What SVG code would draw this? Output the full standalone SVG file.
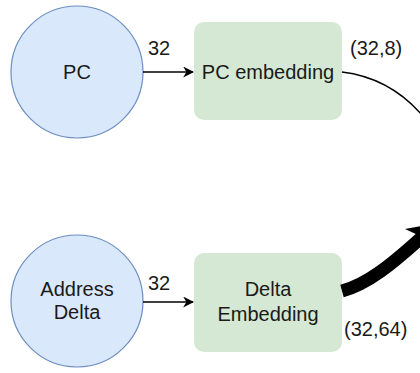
<svg xmlns="http://www.w3.org/2000/svg" width="420" height="373" viewBox="0 0 420 373">
<defs>
<style>
.circ{fill:#dae8fc;stroke:#6c8ebf;stroke-width:1.2}
.box{fill:#d5e8d4;stroke:none}
text{font-family:"Liberation Sans",Arial,sans-serif;font-size:20px;fill:#1a1a1a}
.c{text-anchor:middle}
.edge{fill:none;stroke:#000}
</style>
<marker id="arr" viewBox="0 0 10 10" refX="9" refY="5" markerWidth="11" markerHeight="11" markerUnits="userSpaceOnUse" orient="auto">
<path d="M0,0 L10,5 L0,10 L3,5 Z" fill="#000"/>
</marker>
</defs>
<rect width="420" height="373" fill="#fff"/>
<g id="pc">
<circle class="circ" cx="77" cy="72" r="66"/>
<text class="c" x="77" y="79">PC</text>
</g>
<g id="pc-embedding">
<rect class="box" x="194" y="22" width="148" height="98" rx="10"/>
<text class="c" x="268" y="79">PC embedding</text>
</g>
<g id="address-delta">
<circle class="circ" cx="77" cy="301" r="66"/>
<text class="c" x="77" y="296">Address</text>
<text class="c" x="77" y="319">Delta</text>
</g>
<g id="delta-embedding">
<rect class="box" x="194" y="253" width="148" height="99" rx="10"/>
<text class="c" x="268" y="296">Delta</text>
<text class="c" x="268" y="321">Embedding</text>
</g>
<g id="connectors">
<line class="edge" x1="143" y1="72" x2="193" y2="72" stroke-width="1.5" marker-end="url(#arr)"/>
<line class="edge" x1="143" y1="302" x2="193" y2="302" stroke-width="1.5" marker-end="url(#arr)"/>
<path class="edge" d="M342,72 C375,76 402,92 422,115" stroke-width="1.5"/>
<path class="edge" d="M342,291 C368,284 392,264 422,237" stroke-width="13"/>
<polygon points="405,229 439,223 427,255 422,237" fill="#000"/>
<text x="148" y="55">32</text>
<text x="148" y="290">32</text>
<text x="350" y="55">(32,8)</text>
<text x="344" y="336">(32,64)</text>
</g>
</svg>
